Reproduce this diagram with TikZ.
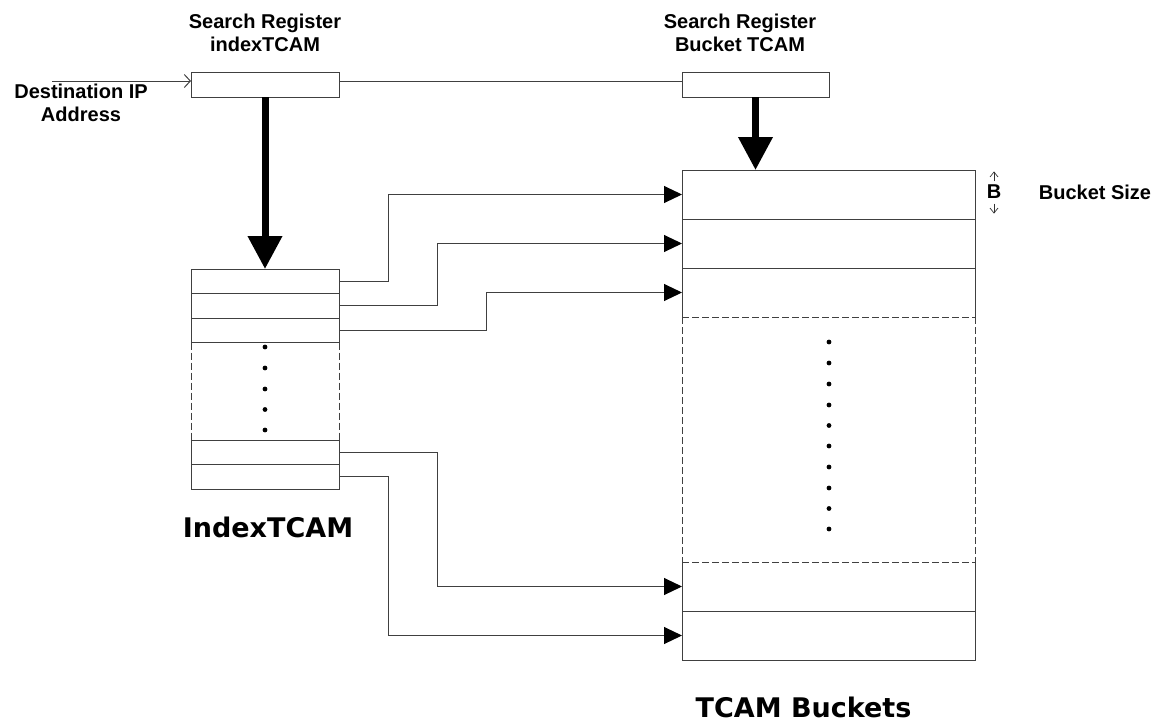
\documentclass[tikz,border=0pt]{standalone}
\usepackage{fontspec}
\setmainfont{Liberation Sans}
\newfontfamily\titlefont{DejaVu Sans}
\usetikzlibrary{arrows.meta}

\begin{document}
\begin{tikzpicture}[x=1pt,y=-1pt,
  edge/.style={draw=black!75, line width=1pt},
  cell/.style={inner sep=0pt, outer sep=0pt},
  regbox/.style={cell, edge, minimum height=25pt},
  lbl/.style={font=\bfseries\fontsize{20}{23}\selectfont, align=center, inner sep=0pt},
  title/.style={font=\titlefont\bfseries\fontsize{27}{32}\selectfont, inner sep=0pt, anchor=base},
  link/.style={edge, -{Triangle[length=18pt,width=17pt,color=black]}},
  bigarrow/.style={line width=7pt, -{Triangle[length=33pt,width=33pt]}},
  barb/.style={line width=0.7pt, draw=black!80, -{Straight Barb[length=5pt,width=8pt]}},
  dashedge/.style={edge, dash pattern=on 7pt off 3pt},
  dotmark/.style={fill=black, radius=2.4pt}
]
\useasboundingbox (0,0) rectangle (1162,726);

% search registers
\node[regbox, minimum width=148pt] (regI) at (265,84.5) {};
\node[regbox, minimum width=147pt] (regB) at (755.5,84.5) {};
\node[lbl, anchor=south] (regIlbl) at (265,52) {Search Register\\indexTCAM};
\node[lbl, anchor=south] (regBlbl) at (740,52) {Search Register\\Bucket TCAM};

% destination address input
\node[lbl, anchor=south] (dest) at (81,122) {Destination IP\\Address};
\coordinate (ipin) at (52,81);
\draw[edge, -{Straight Barb[length=6pt,width=13pt]}] (ipin) -- (ipin -| regI.west);
\draw[edge] (ipin -| regI.east) -- (ipin -| regB.west);

% indexTCAM rows
\foreach \n/\y in {ir1/281.25, ir2/305.75, ir3/330.25, ir4/452.25, ir5/476.75}
  \node[cell, edge, minimum width=148pt, minimum height=24.5pt] (\n) at (265,\y) {};
\draw[dashedge] (ir3.south west) -- (ir4.north west);
\draw[dashedge] (ir3.south east) -- (ir4.north east);
\foreach \y in {347,368,389,409.5,430}
  \fill[dotmark] (265,\y) circle;

% bucket rows
\foreach \n/\y in {b1/194.5, b2/243.5, b3/292.5, b4/586.5, b5/635.5}
  \node[cell, minimum width=293pt, minimum height=49pt] (\n) at (828.5,\y) {};
\draw[edge] (b3.south west) -- (b1.north west) -- (b1.north east) -- (b3.south east);
\draw[edge] (b1.south west) -- (b1.south east);
\draw[edge] (b2.south west) -- (b2.south east);
\draw[dashedge] (b3.south west) -- (b3.south east);
\draw[dashedge] (b3.south west) -- (b4.north west);
\draw[dashedge] (b3.south east) -- (b4.north east);
\draw[dashedge] (b4.north west) -- (b4.north east);
\draw[edge] (b4.north west) -- (b5.south west) -- (b5.south east) -- (b4.north east);
\draw[edge] (b4.south west) -- (b4.south east);
\foreach \y in {342,363,384,405,425.5,446,467,488,508.5,529}
  \fill[dotmark] (829,\y) circle;

% search arrows
\draw[bigarrow] (regI.south) -- (ir1.north);
\draw[bigarrow] (regB.south) -- (regB.south |- b1.north);

% index entries pointing to buckets
\draw[link] (ir1.east) -- ++(49,0) |- (b1.west);
\draw[link] (ir2.east) -- ++(98,0) |- (b2.west);
\draw[link] (ir3.east) -- ++(147,0) |- (b3.west);
\draw[link] (ir4.east) -- ++(98,0) |- (b4.west);
\draw[link] (ir5.east) -- ++(49,0) |- (b5.west);

% bucket size marker
\node[font=\bfseries\fontsize{20}{23}\selectfont, inner sep=0pt] (bsz) at (994,191.5) {B};
\draw[barb] (bsz.north) ++(0,-3) -- ++(0,-10);
\draw[barb] (bsz.south) ++(0,5) -- ++(0,10);
\node[lbl] (bszlbl) at (1095,192) {Bucket Size};

% titles
\node[title] (idxtitle) at (268,537) {IndexTCAM};
\node[title] (bkttitle) at (803.5,717) {TCAM Buckets};
\end{tikzpicture}
\end{document}
